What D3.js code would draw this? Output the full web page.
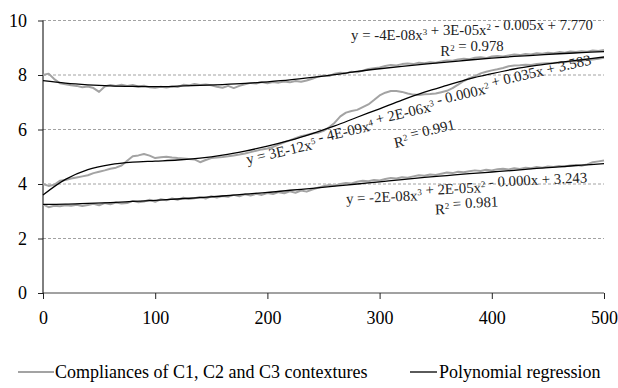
<!DOCTYPE html>
<html>
<head>
<meta charset="utf-8">
<script src="https://cdn.jsdelivr.net/npm/d3@7"></script>
<style>
  html, body { margin: 0; padding: 0; background: #fff; }
  svg { display: block; }
  text { font-family: "Liberation Serif", "Times New Roman", serif; }
</style>
</head>
<body>
<svg id="chart" width="618" height="388"></svg>
<script>
// ---------- data ----------
const xTicks = [0, 100, 200, 300, 400, 500];
const yTicks = [0, 2, 4, 6, 8, 10];

// measured compliance samples, every 5 units of x (0..500)
const sampleX = d3.range(0, 501, 5);
const c1Values = [8.0, 8.05, 7.85, 7.7, 7.66, 7.62, 7.6, 7.55, 7.58, 7.52, 7.38, 7.58, 7.63, 7.6, 7.64, 7.6, 7.63, 7.58, 7.61, 7.55,
  7.53, 7.57, 7.54, 7.58, 7.56, 7.64, 7.62, 7.67, 7.63, 7.65, 7.62, 7.57, 7.53, 7.6, 7.52, 7.6, 7.66, 7.71, 7.69, 7.74,
  7.7, 7.74, 7.72, 7.76, 7.73, 7.78, 7.75, 7.8, 7.86, 7.94, 7.98, 7.96, 8.05, 8.08, 8.06, 8.12, 8.1, 8.16, 8.22, 8.25,
  8.28, 8.33, 8.37, 8.35, 8.4, 8.42, 8.4, 8.45, 8.43, 8.47, 8.45, 8.5, 8.53, 8.52, 8.57, 8.6, 8.58, 8.63, 8.65, 8.62,
  8.68, 8.7, 8.68, 8.72, 8.75, 8.73, 8.77, 8.75, 8.8, 8.78, 8.82, 8.8, 8.84, 8.82, 8.86, 8.84, 8.87, 8.85, 8.9, 8.88, 8.92];
const c2Values = [4.0, 3.93, 3.97, 4.12, 4.15, 4.2, 4.24, 4.28, 4.32, 4.4, 4.45, 4.5, 4.56, 4.6, 4.68, 4.85, 5.02, 5.05, 5.1, 5.04,
  4.95, 4.98, 5.0, 4.97, 4.95, 4.94, 4.92, 4.9, 4.8, 4.88, 4.95, 4.97, 4.99, 5.02, 5.05, 5.08, 5.12, 5.17, 5.22, 5.27,
  5.3, 5.36, 5.45, 5.53, 5.6, 5.68, 5.75, 5.8, 5.85, 5.88, 5.95, 6.08, 6.25, 6.48, 6.62, 6.68, 6.72, 6.82, 6.92, 7.08,
  7.25, 7.35, 7.41, 7.41, 7.38, 7.32, 7.28, 7.27, 7.29, 7.3, 7.32, 7.37, 7.42, 7.52, 7.65, 7.78, 7.88, 7.96, 8.06, 8.12,
  8.17, 8.21, 8.26, 8.32, 8.35, 8.36, 8.38, 8.37, 8.4, 8.42, 8.43, 8.44, 8.46, 8.47, 8.5, 8.5, 8.53, 8.55, 8.57, 8.6, 8.63];
const c3Values = [3.25, 3.15, 3.2, 3.18, 3.22, 3.2, 3.24, 3.19, 3.23, 3.27, 3.22, 3.3, 3.26, 3.32, 3.28, 3.3, 3.38, 3.33, 3.36, 3.42,
  3.35, 3.44, 3.4, 3.47, 3.42, 3.5, 3.45, 3.48, 3.52, 3.47, 3.55, 3.5, 3.56, 3.53, 3.6, 3.55, 3.62, 3.58, 3.64, 3.6,
  3.67, 3.63, 3.7, 3.66, 3.73, 3.68, 3.76, 3.72, 3.8, 3.86, 3.92, 3.96, 3.94, 4.0, 4.04, 4.02, 4.08, 4.12, 4.1, 4.15,
  4.13, 4.18, 4.22, 4.2, 4.25, 4.23, 4.28, 4.32, 4.3, 4.35, 4.33, 4.38, 4.42, 4.4, 4.45, 4.43, 4.47, 4.5, 4.48, 4.52,
  4.5, 4.54, 4.56, 4.53, 4.58, 4.55, 4.6, 4.58, 4.62, 4.6, 4.64, 4.62, 4.66, 4.64, 4.68, 4.7, 4.67, 4.72, 4.8, 4.83, 4.86];

// polynomial regression curves, read every 20 units of x
const regX = d3.range(0, 501, 20);
const reg1Values = [7.79, 7.7, 7.64, 7.6, 7.58, 7.57, 7.59, 7.62, 7.65, 7.69, 7.75, 7.82, 7.91, 8.01, 8.13, 8.23, 8.32, 8.4, 8.47, 8.55, 8.62, 8.68, 8.73, 8.78, 8.82, 8.86];
const reg2Values = [3.6, 4.17, 4.53, 4.71, 4.8, 4.84, 4.88, 4.95, 5.06, 5.21, 5.39, 5.6, 5.85, 6.13, 6.45, 6.76, 7.08, 7.37, 7.62, 7.86, 8.05, 8.22, 8.35, 8.46, 8.56, 8.66];
const reg3Values = [3.25, 3.26, 3.29, 3.32, 3.36, 3.4, 3.45, 3.5, 3.56, 3.63, 3.69, 3.77, 3.84, 3.92, 4.0, 4.08, 4.16, 4.24, 4.31, 4.38, 4.44, 4.5, 4.57, 4.63, 4.69, 4.75];

const legendLabels = ["Compliances of C1, C2 and C3 contextures", "Polynomial regression"];

// ---------- drawing ----------
const svg = d3.select("#chart");
const x = d3.scaleLinear().domain([0, 500]).range([43, 604]);
const y = d3.scaleLinear().domain([0, 10]).range([293, 20.5]);

// gridlines
svg.append("g").selectAll("line").data(yTicks.filter(d => d > 0)).join("line")
  .attr("x1", x(0)).attr("x2", x(500))
  .attr("y1", d => y(d)).attr("y2", d => y(d))
  .attr("stroke", "#8a8a8a").attr("stroke-width", 0.8).attr("stroke-dasharray", "3,2");

// axes
const xAxis = d3.axisBottom(x).tickValues(xTicks).tickSize(6).tickPadding(12);
const gx = svg.append("g").attr("transform", `translate(0,${y(0)})`).call(xAxis);
gx.select(".domain").attr("stroke", "#444").attr("d", `M${x(0)},0H${x(500)}`);
gx.selectAll(".tick line").attr("stroke", "#222");
gx.selectAll(".tick text").attr("font-size", 18).attr("fill", "#000");

const yAxis = d3.axisLeft(y).tickValues(yTicks).tickSize(5).tickPadding(11);
const gy = svg.append("g").attr("transform", `translate(${x(0)},0)`).call(yAxis);
gy.select(".domain").attr("stroke", "#000").attr("d", `M0,${y(10)}V${y(0)}`);
gy.selectAll(".tick line").attr("stroke", "#222");
gy.selectAll(".tick text").attr("font-size", 18).attr("fill", "#000");

// series
const line = d3.line().x(d => x(d[0])).y(d => y(d[1]));
const smooth = d3.line().x(d => x(d[0])).y(d => y(d[1])).curve(d3.curveCatmullRom);

[c1Values, c2Values, c3Values].forEach(vals => {
  svg.append("path").datum(sampleX.map((xv, i) => [xv, vals[i]]))
    .attr("d", line).attr("fill", "none")
    .attr("stroke", "#a3a3a3").attr("stroke-width", 2).attr("stroke-linejoin", "round");
});
[reg1Values, reg2Values, reg3Values].forEach(vals => {
  svg.append("path").datum(regX.map((xv, i) => [xv, vals[i]]))
    .attr("d", smooth).attr("fill", "none")
    .attr("stroke", "#000").attr("stroke-width", 1.3);
});

// equation labels
function eq(g, parts) {
  parts.forEach(p => {
    if (Array.isArray(p)) {
      g.append("tspan").attr("font-size", "60%").attr("dy", -5).text(p[0]);
      g.append("tspan").attr("dy", 5).text("");
    } else {
      g.append("tspan").text(p);
    }
  });
}
const eqs = [
  { cx: 472, cy: 35, rot: 0, parts: ["y = -4E-08x", ["3"], " + 3E-05x", ["2"], " - 0.005x + 7.770"] },
  { cx: 472, cy: 51, rot: 0, parts: ["R", ["2"], " = 0.978"] },
  { cx: 422, cy: 119, rot: -13, parts: ["y = 3E-12x", ["5"], " - 4E-09x", ["4"], " + 2E-06x", ["3"], " - 0.000x", ["2"], " + 0.035x + 3.583"] },
  { cx: 426, cy: 136, rot: -13, parts: ["R", ["2"], " = 0.991"] },
  { cx: 467, cy: 193, rot: -2.7, parts: ["y = -2E-08x", ["3"], " + 2E-05x", ["2"], " - 0.000x + 3.243"] },
  { cx: 467, cy: 208, rot: -2.7, parts: ["R", ["2"], " = 0.981"] }
];
eqs.forEach(e => {
  const t = svg.append("text")
    .attr("transform", `translate(${e.cx},${e.cy + 5}) rotate(${e.rot})`)
    .attr("text-anchor", "middle").attr("font-size", 14.8).attr("fill", "#222");
  eq(t, e.parts);
});

// legend
const lg = svg.append("g");
lg.append("line").attr("x1", 18).attr("x2", 54).attr("y1", 372).attr("y2", 372)
  .attr("stroke", "#a3a3a3").attr("stroke-width", 2);
lg.append("text").attr("x", 55).attr("y", 378).attr("font-size", 18).text(legendLabels[0]);
lg.append("line").attr("x1", 410).attr("x2", 437).attr("y1", 372).attr("y2", 372)
  .attr("stroke", "#000").attr("stroke-width", 1.3);
lg.append("text").attr("x", 439).attr("y", 378).attr("font-size", 18).text(legendLabels[1]);
</script>
</body>
</html>
